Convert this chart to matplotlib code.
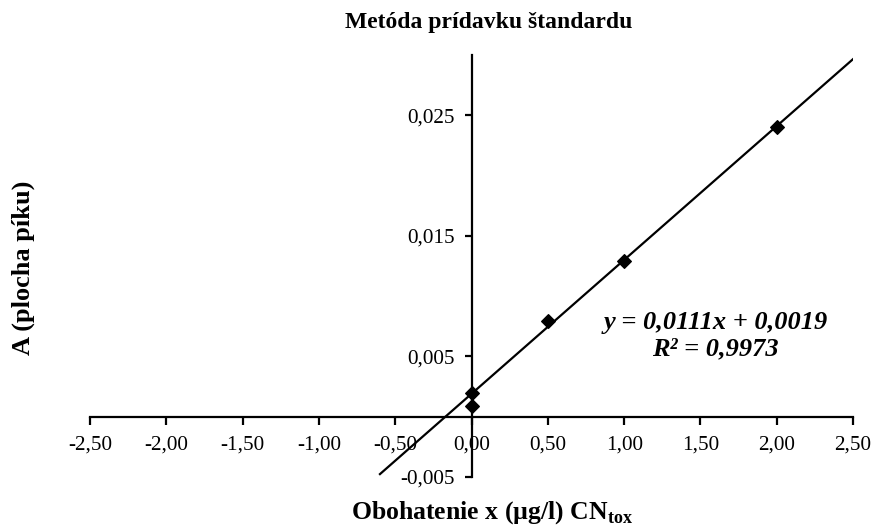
import numpy as np
import matplotlib.pyplot as plt
from matplotlib.ticker import FuncFormatter

plt.rcParams['font.family'] = ['Liberation Serif', 'DejaVu Serif']
plt.rcParams['mathtext.fontset'] = 'custom'
plt.rcParams['mathtext.rm'] = 'Liberation Serif'
plt.rcParams['mathtext.bf'] = 'Liberation Serif:bold'

# measured points: added standard (ug/l) vs. peak area
added = [0.0, 0.0, 0.5, 1.0, 2.0]
area = [0.0020, 0.0009, 0.0079, 0.0129, 0.0240]

# linear trendline from the chart
slope = 0.0111
intercept = 0.0019
trend_x = [-0.6, 2.5]

x_ticks = [-2.5, -2.0, -1.5, -1.0, -0.5, 0.0, 0.5, 1.0, 1.5, 2.0, 2.5]
y_ticks = [-0.005, 0.005, 0.015, 0.025]


def comma(fmt):
    return FuncFormatter(lambda v, pos: (fmt % v).replace('.', ','))


fig = plt.figure(figsize=(8.74, 5.28), dpi=100)
ax = fig.add_axes([0.103, 0.0966, 0.873, 0.7994])

tx = np.array(trend_x)
ax.plot(tx, slope * tx + intercept, color='black', lw=1.6, zorder=2)
ax.scatter(added, area, marker='D', s=48, color='black', zorder=3)

ax.set_xlim(-2.5, 2.5)
ax.set_ylim(-0.005, 0.030)
ax.set_xticks(x_ticks)
ax.set_yticks(y_ticks)
ax.xaxis.set_major_formatter(comma('%.2f'))
ax.yaxis.set_major_formatter(comma('%.3f'))

ax.spines['left'].set_position(('data', 0))
ax.spines['bottom'].set_position(('data', 0))
ax.spines['right'].set_visible(False)
ax.spines['top'].set_visible(False)
for s in ('left', 'bottom'):
    ax.spines[s].set_linewidth(1.6)
ax.tick_params(direction='out', width=1.6, labelsize=15.2)
ax.tick_params(axis='x', length=6, pad=7.5)
ax.tick_params(axis='y', length=5, pad=7)

ax.text(1.60, 0.0067, 'y = 0,0111x + 0,0019\nR² = 0,9973', ha='center', va='center',
        fontsize=19, fontweight='bold', style='italic', linespacing=1.17)

fig.text(0.559, 0.958, 'Metóda prídavku štandardu', ha='center', va='center',
         fontsize=17, fontweight='bold')
fig.text(0.027, 0.492, 'A (plocha píku)', ha='center', va='center', rotation=90,
         fontsize=19, fontweight='bold')
fig.text(0.563, 0.030, r'Obohatenie x (µg/l) CN$_{\mathbf{tox}}$', ha='center', va='center',
         fontsize=18.5, fontweight='bold')

fig.savefig('out.png', dpi=100)
